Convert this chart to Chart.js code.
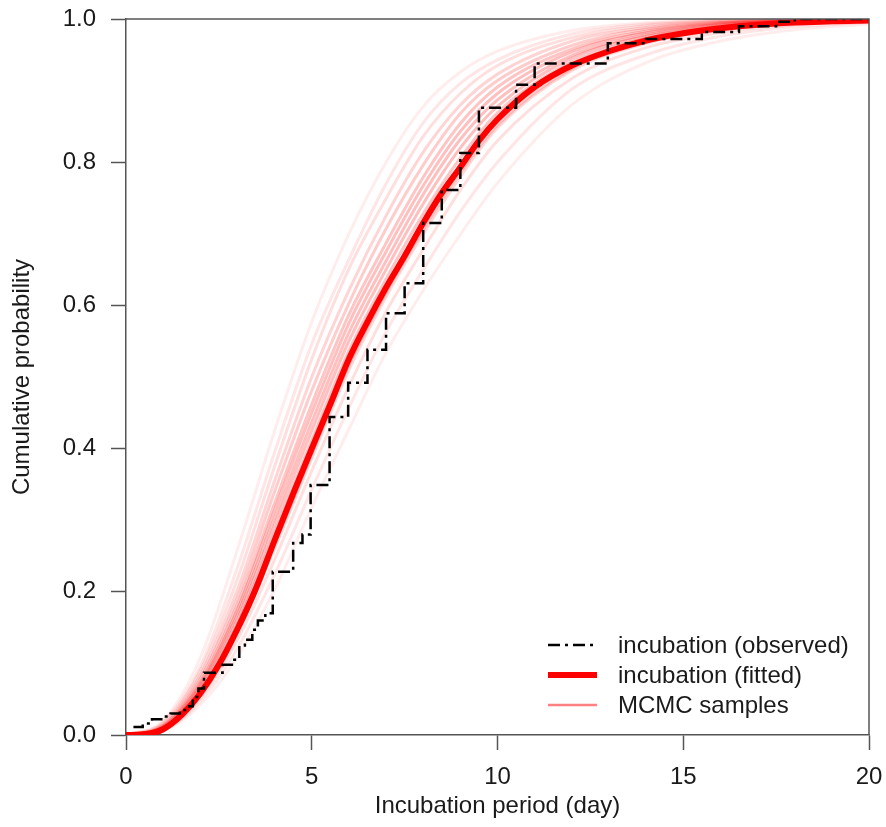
<!DOCTYPE html>
<html>
<head>
<meta charset="utf-8">
<script src="https://cdn.jsdelivr.net/npm/chart.js@4.4.0/dist/chart.umd.min.js"></script>
<style>
html, body { margin: 0; padding: 0; background: #fff; }
#wrap { width: 886px; height: 827px; }
</style>
</head>
<body>
<div id="wrap"><canvas id="cdfChart" width="886" height="827"></canvas></div>
<script>
// Observed (empirical) cumulative distribution, step jumps: x = day, y = new level
const obsX = [0.2, 0.45, 0.7, 0.95, 1.2, 1.45, 1.7, 1.8, 1.95, 2.1, 2.6, 2.85, 3.05, 3.2, 3.4, 3.55, 3.75, 3.95,
              4.5, 4.75, 4.97, 5.48, 5.98, 6.5, 7.0, 7.5, 8.0, 8.5, 9.0, 9.5, 10.5, 11.0, 12.97, 14.0, 15.5, 16.5, 17.5, 18.0, 20.0];
const obsY = [0.011, 0.016, 0.022, 0.026, 0.03, 0.035, 0.04, 0.053, 0.065, 0.087, 0.098, 0.105, 0.125, 0.133, 0.147, 0.16, 0.17, 0.228,
              0.268, 0.28, 0.349, 0.444, 0.492, 0.538, 0.589, 0.631, 0.715, 0.761, 0.813, 0.876, 0.908, 0.938, 0.966, 0.972, 0.982, 0.99, 0.996, 1.0, 1.0];

// Fitted curve
const fitX = [0, 0.5, 1, 1.5, 2, 2.5, 3, 3.5, 4, 4.5, 5, 5.5, 6, 6.5, 7, 7.5, 8, 8.5, 9, 9.5, 10,
              11, 12, 13, 14, 15, 16, 17, 18, 19, 20];
const fitY = [0, 0.001, 0.008, 0.028, 0.058, 0.098, 0.148, 0.205, 0.272, 0.337, 0.40, 0.462, 0.525, 0.577, 0.625, 0.669,
              0.715, 0.757, 0.793, 0.83, 0.86, 0.905, 0.935, 0.955, 0.97, 0.98, 0.987, 0.992, 0.995, 0.997, 0.998];

// MCMC sample curves, from earliest to latest
const sampleX = [0, 1, 2, 3, 4, 5, 6, 7, 8, 9, 10, 12, 14, 16, 18, 20];
const mcmcSamples = [
    [0, 0.020, 0.108, 0.259, 0.425, 0.577, 0.700, 0.800, 0.878, 0.926, 0.955, 0.984, 0.995, 0.998, 0.999, 1.0],
    [0, 0.018, 0.096, 0.234, 0.395, 0.546, 0.664, 0.770, 0.855, 0.910, 0.943, 0.979, 0.993, 0.998, 0.999, 1.0],
    [0, 0.016, 0.090, 0.218, 0.375, 0.525, 0.651, 0.749, 0.836, 0.896, 0.935, 0.974, 0.991, 0.997, 0.999, 1.0],
    [0, 0.014, 0.084, 0.203, 0.355, 0.500, 0.621, 0.725, 0.814, 0.880, 0.923, 0.969, 0.988, 0.996, 0.998, 0.999],
    [0, 0.013, 0.079, 0.192, 0.340, 0.481, 0.603, 0.707, 0.796, 0.868, 0.914, 0.963, 0.986, 0.995, 0.998, 0.999],
    [0, 0.012, 0.074, 0.182, 0.324, 0.462, 0.587, 0.687, 0.779, 0.854, 0.905, 0.958, 0.983, 0.994, 0.998, 0.999],
    [0, 0.011, 0.071, 0.175, 0.314, 0.450, 0.575, 0.675, 0.767, 0.843, 0.896, 0.954, 0.981, 0.993, 0.997, 0.999],
    [0, 0.010, 0.068, 0.169, 0.303, 0.437, 0.562, 0.662, 0.755, 0.832, 0.887, 0.949, 0.978, 0.992, 0.997, 0.999],
    [0, 0.010, 0.064, 0.162, 0.293, 0.425, 0.550, 0.650, 0.742, 0.820, 0.878, 0.945, 0.976, 0.990, 0.996, 0.998],
    [0, 0.009, 0.061, 0.155, 0.282, 0.412, 0.537, 0.637, 0.728, 0.806, 0.869, 0.940, 0.973, 0.989, 0.996, 0.998],
    [0, 0.008, 0.057, 0.145, 0.266, 0.393, 0.517, 0.618, 0.706, 0.786, 0.852, 0.931, 0.968, 0.986, 0.994, 0.997],
    [0, 0.008, 0.056, 0.142, 0.261, 0.387, 0.510, 0.612, 0.700, 0.780, 0.848, 0.928, 0.966, 0.985, 0.994, 0.997],
    [0, 0.007, 0.052, 0.133, 0.245, 0.369, 0.487, 0.591, 0.678, 0.761, 0.830, 0.917, 0.960, 0.981, 0.992, 0.997],
    [0, 0.0065, 0.047, 0.121, 0.224, 0.343, 0.457, 0.563, 0.650, 0.731, 0.800, 0.902, 0.950, 0.976, 0.989, 0.995],
    [0, 0.006, 0.042, 0.109, 0.203, 0.318, 0.427, 0.534, 0.621, 0.699, 0.771, 0.880, 0.939, 0.969, 0.985, 0.993]
];
// opacity of each sample line (outer ones fainter)
const mcmcAlpha = [0.07, 0.1, 0.13, 0.17, 0.2, 0.23, 0.25, 0.25, 0.25, 0.23, 0.2, 0.17, 0.13, 0.1, 0.07];

const xTicks = [0, 5, 10, 15, 20];
const yTicks = [0, 0.2, 0.4, 0.6, 0.8, 1.0];
const legendLabels = ['incubation (observed)', 'incubation (fitted)', 'MCMC samples'];

const FONT = "'Liberation Sans', Arial, sans-serif";
const AXIS_GREY = '#555';

function toPoints(xs, ys) {
    return xs.map((x, i) => ({ x: x, y: ys[i] }));
}

// kutu + legend
const boxAndLegend = {
    id: 'boxAndLegend',
    afterDraw(chart) {
        const { ctx, chartArea: a } = chart;
        ctx.save();
        ctx.strokeStyle = AXIS_GREY;
        ctx.lineWidth = 1.5;
        ctx.beginPath();
        ctx.moveTo(a.left, a.top);
        ctx.lineTo(a.right, a.top);
        ctx.lineTo(a.right, a.bottom);
        ctx.stroke();

        const lineL = a.right - 321, lineR = a.right - 272, textX = a.right - 251;
        const rows = [a.bottom - 90, a.bottom - 60, a.bottom - 30];

        ctx.lineCap = 'butt';
        // observed
        ctx.strokeStyle = '#000';
        ctx.lineWidth = 2.5;
        ctx.setLineDash([12, 5, 3, 5]);
        ctx.beginPath(); ctx.moveTo(lineL, rows[0]); ctx.lineTo(lineR, rows[0]); ctx.stroke();
        ctx.setLineDash([]);
        // fitted
        ctx.strokeStyle = '#ff0000';
        ctx.lineWidth = 6;
        ctx.beginPath(); ctx.moveTo(lineL, rows[1]); ctx.lineTo(lineR, rows[1]); ctx.stroke();
        // samples
        ctx.strokeStyle = '#ff8080';
        ctx.lineWidth = 2.5;
        ctx.beginPath(); ctx.moveTo(lineL, rows[2]); ctx.lineTo(lineR, rows[2]); ctx.stroke();

        ctx.fillStyle = '#1a1a1a';
        ctx.font = '24px ' + FONT;
        ctx.textAlign = 'left';
        ctx.textBaseline = 'middle';
        legendLabels.forEach((t, i) => ctx.fillText(t, textX, rows[i] + 1));
        ctx.restore();
    }
};

document.addEventListener('DOMContentLoaded', () => {
    const datasets = [
        {
            label: legendLabels[0],
            data: toPoints(obsX, obsY),
            borderColor: '#000',
            borderWidth: 2.5,
            borderDash: [12, 5, 3, 5],
            stepped: true,
            pointRadius: 0,
            fill: false,
            clip: 0
        },
        {
            label: legendLabels[1],
            data: toPoints(fitX, fitY),
            borderColor: '#ff0000',
            borderWidth: 6,
            cubicInterpolationMode: 'monotone',
            pointRadius: 0,
            fill: false,
            clip: 0
        }
    ];
    mcmcSamples.forEach((ys, i) => {
        datasets.push({
            label: 'MCMC ' + (i + 1),
            data: toPoints(sampleX, ys),
            borderColor: `rgba(255, 0, 0, ${mcmcAlpha[i]})`,
            borderWidth: 3,
            cubicInterpolationMode: 'monotone',
            pointRadius: 0,
            fill: false,
            clip: 0
        });
    });

    const ctx = document.getElementById('cdfChart').getContext('2d');
    new Chart(ctx, {
        type: 'line',
        data: { datasets: datasets },
        plugins: [boxAndLegend],
        options: {
            responsive: false,
            animation: false,
            devicePixelRatio: 1,
            layout: { padding: { top: 19, right: 17, left: 0, bottom: 0 } },
            plugins: { legend: { display: false }, tooltip: { enabled: false } },
            scales: {
                x: {
                    type: 'linear',
                    min: 0, max: 20,
                    afterBuildTicks: (scale) => { scale.ticks = xTicks.map(v => ({ value: v })); },
                    afterFit: (scale) => {
                        scale.height = 92;
                        scale.paddingLeft = 0;
                        scale.paddingRight = 0;
                    },
                    ticks: { font: { size: 24, family: FONT }, color: '#1a1a1a', padding: 13, maxRotation: 0 },
                    grid: { drawOnChartArea: false, tickLength: 15, tickColor: AXIS_GREY, tickWidth: 1.5 },
                    border: { display: true, color: AXIS_GREY, width: 1.5 },
                    title: { display: true, text: 'Incubation period (day)', color: '#1a1a1a',
                             font: { size: 24, family: FONT }, padding: { top: 0, bottom: 6 } }
                },
                y: {
                    type: 'linear',
                    min: 0, max: 1,
                    afterBuildTicks: (scale) => { scale.ticks = yTicks.map(v => ({ value: v })); },
                    afterFit: (scale) => {
                        scale.width = 126;
                        scale.paddingTop = 0;
                        scale.paddingBottom = 0;
                    },
                    ticks: { font: { size: 24, family: FONT }, color: '#1a1a1a', padding: 15,
                             callback: (v) => Number(v).toFixed(1) },
                    grid: { drawOnChartArea: false, tickLength: 15, tickColor: AXIS_GREY, tickWidth: 1.5 },
                    border: { display: true, color: AXIS_GREY, width: 1.5 },
                    title: { display: true, text: 'Cumulative probability', color: '#1a1a1a',
                             font: { size: 24, family: FONT }, padding: { top: 8, bottom: 0 } }
                }
            }
        }
    });
});
</script>
</body>
</html>
